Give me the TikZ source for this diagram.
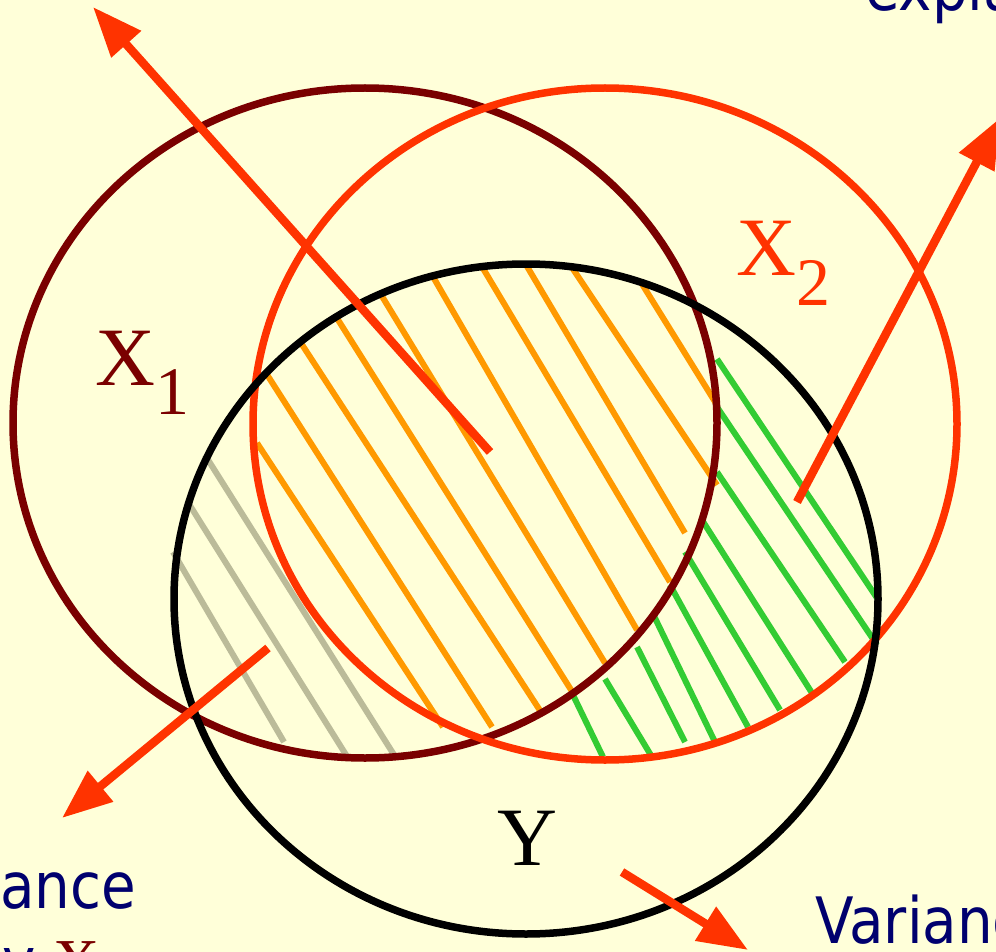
\documentclass[tikz,border=0pt]{standalone}
\usepackage{fontspec}
\newfontfamily\serfont{Liberation Serif}
\newfontfamily\capfont[FakeStretch=0.88]{DejaVu Sans}
\usetikzlibrary{arrows.meta}
\definecolor{vbg}{RGB}{255,255,217}
\definecolor{vxone}{RGB}{122,0,0}
\definecolor{vxtwo}{RGB}{255,51,0}
\definecolor{vnavy}{RGB}{0,0,110}
\definecolor{vorange}{RGB}{255,153,0}
\definecolor{vgreen}{RGB}{51,204,51}
\definecolor{vgray}{RGB}{187,187,153}
\newcommand{\setname}[2]{#1\raisebox{-29pt}{\fontsize{68}{68}\selectfont #2}}
\tikzset{
  setring/.style={line width=7.5pt},
  hatchline/.style={line width=6pt},
  bigarr/.style={-{Triangle[length=50pt,width=38pt]}, line width=8.5pt, vxtwo},
  setlabel/.style={anchor=base west, inner sep=0pt, font=\serfont\fontsize{83}{83}\selectfont},
  caption/.style={anchor=base west, inner sep=0pt, text=vnavy,
    font=\capfont\fontsize{64}{75}\selectfont}
}
\begin{document}
\begin{tikzpicture}[x=1pt,y=-1pt]
  \useasboundingbox (0,0) rectangle (996,952);
  \clip (0,0) rectangle (996,952);
  \fill[vbg] (0,0) rectangle (996,952);

  % hatching of the overlaps
  \foreach \xa/\ya/\xb/\yb in {257/443/443/727, 266/373/492/727, 299/340/541/712,
      335/315/573/693, 380/293/605/663, 432/275/637/630, 481/265/670/582,
      525/263/685/533, 571/266/717/485, 642/284/717/405}
    \draw[hatchline, vorange] (\xa,\ya) -- (\xb,\yb);
  \foreach \xa/\ya/\xb/\yb in {717/359/877/598, 717/407/877/645, 717/472/845/662,
      702/520/812/693, 685/552/780/710, 670/585/748/727, 654/616/715/742,
      637/647/685/742, 605/679/652/757, 573/695/603/757}
    \draw[hatchline, vgreen] (\xa,\ya) -- (\xb,\yb);
  \foreach \xa/\ya/\xb/\yb in {205/455/396/758, 189/504/348/758, 173/552/284/742}
    \draw[hatchline, vgray] (\xa,\ya) -- (\xb,\yb);

  % the three sets
  \draw[setring, vxone] (365,423) ellipse [x radius=352, y radius=335];
  \draw[setring, vxtwo] (605,424) ellipse [x radius=352, y radius=336];
  \draw[setring, black] (526,599) ellipse [x radius=352, y radius=335];

  \node[setlabel, text=vxone] (xonelab) at (95,385) {\setname{X}{1}};
  \node[setlabel, text=vxtwo] (xtwolab) at (736,276) {\setname{X}{2}};
  \node[setlabel, text=black] (ylab) at (497,865) {Y};

  % arrows out of the regions
  \coordinate (aones) at (490,452);
  \coordinate (aonet) at (93,7);
  \coordinate (atwos) at (797,502);
  \coordinate (atwot) at (1000,118);
  \coordinate (athrees) at (268,648);
  \coordinate (athreet) at (62,818);
  \coordinate (afours) at (622,872);
  \coordinate (afourt) at (748,950);
  \draw[bigarr] (aones) -- (aonet);
  \draw[bigarr] (atwos) -- (atwot);
  \draw[bigarr] (athrees) -- (athreet);
  \draw[bigarr] (afours) -- (afourt);

  % captions, cut by the frame
  \node[caption] (captop) at (865,11) {explained};
  \node[caption] (capleft) at (0,908) {ance};
  \node[caption] (capleftb) at (2,983) {y {\serfont\color{vxone}X}};
  \node[caption] (capright) at (815,943) {Variance};
\end{tikzpicture}
\end{document}
